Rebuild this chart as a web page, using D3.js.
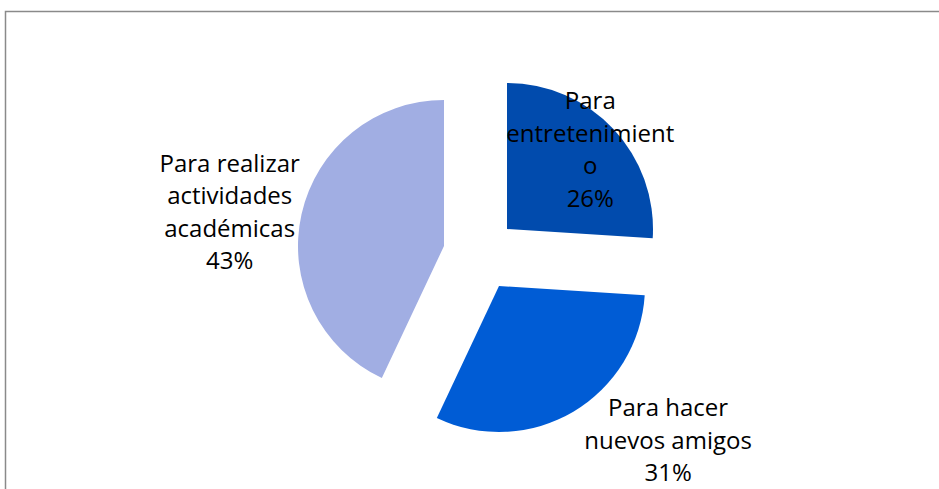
<!DOCTYPE html>
<html>
<head>
<meta charset="utf-8">
<script src="https://cdn.jsdelivr.net/npm/d3@7"></script>
<style>
  body { margin: 0; background: #fff; }
  svg { display: block; }
  .lbl { font-family: "Open Sans", Lato, sans-serif; font-size: 24px; fill: #000; }
</style>
</head>
<body>
<div class="pie"></div>
<script>
// data
var categories = ["Para entretenimiento", "Para hacer nuevos amigos", "Para realizar actividades académicas"];
var values = [26, 31, 43];
// label lines as wrapped in the original (percent added below)
var labelLines = [
  ["Para", "entretenimient", "o"],
  ["Para hacer", "nuevos amigos"],
  ["Para realizar", "actividades", "académicas"]
];
var colors = ["#014BAD", "#005CD5", "#A1AEE3"];

var svgWidth = 939;
var svgHeight = 489;

var svg = d3.select(".pie")
  .append("svg")
  .attr("width", svgWidth)
  .attr("height", svgHeight);

// chart frame (runs off the right and bottom edge)
svg.append("rect")
  .attr("x", 5.5)
  .attr("y", 11.5)
  .attr("width", svgWidth + 20)
  .attr("height", svgHeight + 20)
  .attr("fill", "none")
  .attr("stroke", "#8a8a8a")
  .attr("stroke-width", 1.5);

var center = [483, 253];
var radius = 146;
// how far each slice was pulled out of the pie
var explode = [[24, -24], [16, 33], [-39, -7]];
// label centre relative to the slice tip: [angle in degrees clockwise from top, distance]
var labelPolar = [[46.4, 115], [132.4, 229], [279, 217]];
var lineHeight = 32.5;

var pie = d3.pie().sort(null).value(d => d);
var arcs = pie(values);

var arc = d3.arc().innerRadius(0).outerRadius(radius);

var slices = svg.append("g")
  .attr("transform", `translate(${center[0]}, ${center[1]})`)
  .selectAll("g")
  .data(arcs)
  .enter()
  .append("g")
  .attr("transform", (d, i) => `translate(${explode[i][0]}, ${explode[i][1]})`);

slices.append("path")
  .attr("d", arc)
  .attr("fill", (d, i) => colors[i]);

// data labels
slices.each(function(d, i) {
  var a = labelPolar[i][0] * Math.PI / 180;
  var lx = Math.sin(a) * labelPolar[i][1];
  var ly = -Math.cos(a) * labelPolar[i][1];
  var lines = labelLines[i].concat([d3.format(".0%")(d.value / d3.sum(values))]);
  var top = ly - (lines.length - 1) * lineHeight / 2;
  var text = d3.select(this).append("text")
    .attr("class", "lbl")
    .attr("text-anchor", "middle");
  lines.forEach(function(line, k) {
    text.append("tspan")
      .attr("x", lx)
      .attr("y", top + k * lineHeight)
      .attr("dy", "0.35em")
      .text(line);
  });
});
</script>
</body>
</html>
